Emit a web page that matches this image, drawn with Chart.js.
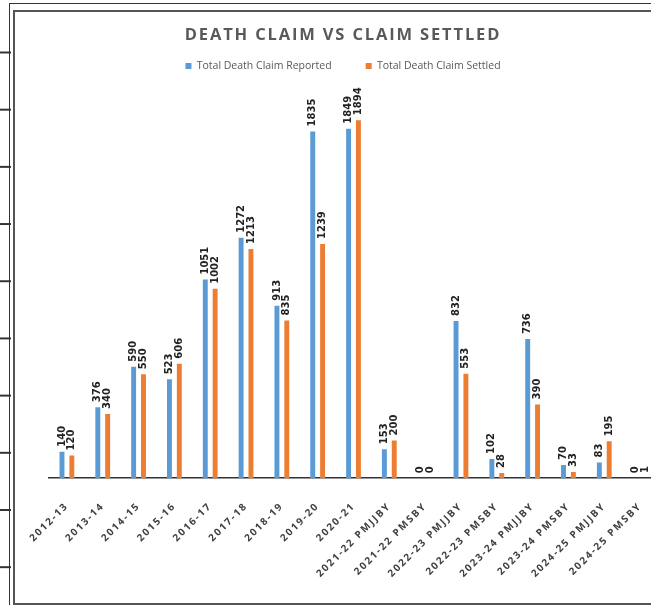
<!DOCTYPE html>
<html>
<head>
<meta charset="utf-8">
<script src="https://cdn.jsdelivr.net/npm/chart.js@4/dist/chart.umd.min.js"></script>
<style>
  html, body { margin: 0; padding: 0; background: #fff; overflow: hidden; width: 651px; height: 605px; }
  .outer { position: absolute; left: 9px; top: 3px; width: 700px; height: 620px;
           border-top: 1.5px solid #333; border-left: 1.5px solid #333; }
  .ticks { position: absolute; left: 0; top: 0; width: 11px; height: 605px;
           background-image: linear-gradient(to bottom, #333 0 1.5px, transparent 1.5px);
           background-size: 11px 57.2px; background-position: 0 51.5px; background-repeat: repeat-y; }
  .frame { position: absolute; left: 13px; top: 10px; width: 660px; height: 591px;
           border: 2px solid #555; background: #fff; }
  .wrap { position: absolute; left: 13px; top: 10px; width: 660px; height: 593px; }
</style>
</head>
<body>
<div class="outer"></div>
<div class="ticks"></div>
<div class="frame"></div>
<div class="wrap"><canvas id="claimChart"></canvas></div>
<script>
// categories and values
const years = ['2012-13', '2013-14', '2014-15', '2015-16', '2016-17', '2017-18', '2018-19',
  '2019-20', '2020-21', '2021-22 PMJJBY', '2021-22 PMSBY', '2022-23 PMJJBY', '2022-23 PMSBY',
  '2023-24 PMJJBY', '2023-24 PMSBY', '2024-25 PMJJBY', '2024-25 PMSBY'];
const reported = [140, 376, 590, 523, 1051, 1272, 913, 1835, 1849, 153, 0, 832, 102, 736, 70, 83, 0];
const settled = [120, 340, 550, 606, 1002, 1213, 835, 1239, 1894, 200, 0, 553, 28, 390, 33, 195, 1];

// category axis with letter spacing on the tick labels
class SpacedCategoryScale extends Chart.CategoryScale {
  drawLabels(area) {
    const c = this.ctx;
    c.save();
    c.letterSpacing = '1.8px';
    super.drawLabels(area);
    c.restore();
  }
}
SpacedCategoryScale.id = 'spacedCategory';
SpacedCategoryScale.defaults = Chart.CategoryScale.defaults;
Chart.register(SpacedCategoryScale);

// spaced out title, like the excel one
const spacedTitle = {
  id: 'spacedTitle',
  afterInit(chart) {
    const tb = chart.titleBlock;
    if (!tb) return;
    const draw = tb.draw.bind(tb);
    tb.draw = function () {
      this.ctx.save();
      this.ctx.letterSpacing = '1.85px';
      draw();
      this.ctx.restore();
    };
  }
};

// value labels above the bars, rotated
const barLabels = {
  id: 'barLabels',
  afterDatasetsDraw(chart) {
    const ctx = chart.ctx;
    chart.data.datasets.forEach((ds, i) => {
      chart.getDatasetMeta(i).data.forEach((bar, j) => {
        ctx.save();
        ctx.translate(bar.x, bar.y - 5);
        ctx.rotate(-Math.PI / 2);
        ctx.font = 'bold 10px "DejaVu Sans"';
        ctx.fillStyle = '#222';
        ctx.textAlign = 'left';
        ctx.textBaseline = 'middle';
        ctx.fillText(ds.data[j], 0, 0);
        ctx.restore();
      });
    });
  }
};

const ctx = document.getElementById('claimChart').getContext('2d');
const claimChart = new Chart(ctx, {
    type: 'bar',
    data: {
        labels: years,
        datasets: [{
            label: 'Total Death Claim Reported',
            data: reported,
            backgroundColor: '#5B9BD5',
            barPercentage: 0.5,
            categoryPercentage: 0.55
        }, {
            label: 'Total Death Claim Settled',
            data: settled,
            backgroundColor: '#ED7D31',
            barPercentage: 0.5,
            categoryPercentage: 0.55
        }]
    },
    options: {
        responsive: true,
        maintainAspectRatio: false,
        animation: false,
        layout: { padding: { top: 0, left: 15, right: 15, bottom: 19 } },
        plugins: {
            title: {
                display: true,
                text: 'DEATH CLAIM VS CLAIM SETTLED',
                color: '#595959',
                font: { family: '"Open Sans"', size: 16.5, weight: 'bold' },
                padding: { top: 15, bottom: -18 }
            },
            legend: {
                labels: {
                    boxWidth: 6,
                    boxHeight: 6,
                    padding: 34,
                    color: '#595959',
                    font: { family: '"Open Sans"', size: 10.5 }
                }
            },
            tooltip: { enabled: false }
        },
        scales: {
            x: {
                type: 'spacedCategory',
                grid: { display: false, drawTicks: false },
                border: { display: true, color: '#333', width: 1.5 },
                ticks: {
                    autoSkip: false,
                    minRotation: 45,
                    maxRotation: 45,
                    padding: 22,
                    color: '#404040',
                    font: { family: '"Open Sans"', size: 10, weight: 'bold' }
                }
            },
            y: {
                // hidden axis, kept only to hold the left margin
                min: 0,
                max: 2100,
                grid: { display: false },
                border: { display: false },
                ticks: { display: false },
                afterFit(scale) { scale.width = 21; }
            }
        }
    },
    plugins: [spacedTitle, barLabels]
});
</script>
</body>
</html>
